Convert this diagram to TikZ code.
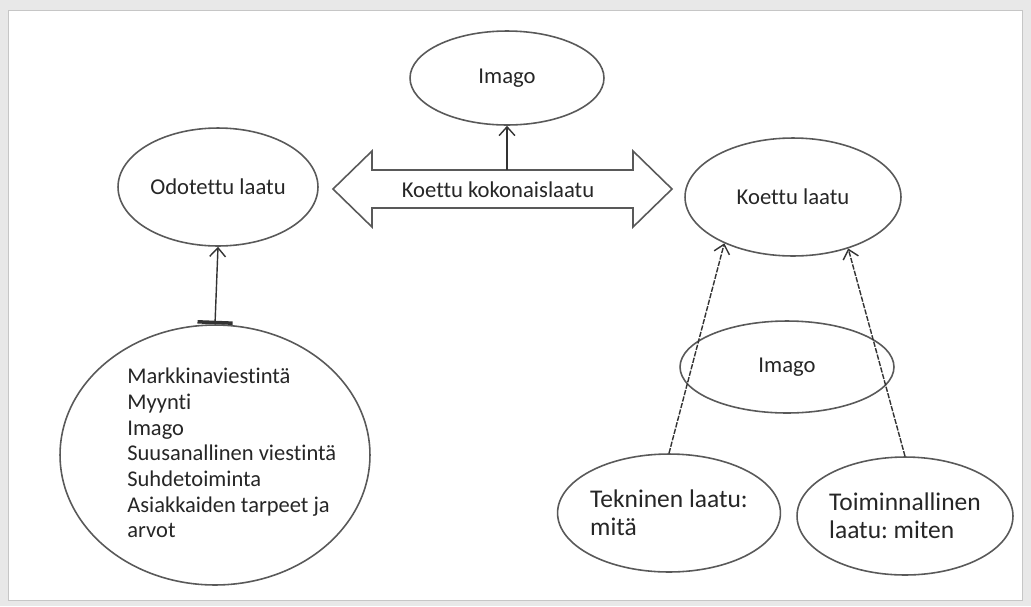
\documentclass[tikz,border=0pt]{standalone}
\usepackage{fontspec}
\setmainfont{Carlito}[Ligatures={NoCommon}]
\usetikzlibrary{shapes.geometric,arrows.meta}
\frenchspacing

\tikzset{
  oval/.style={ellipse, draw=black!65, line width=0.9pt, inner sep=0pt,
    minimum width=4.32cm, minimum height=2.36cm, align=left,
    font=\fontsize{12.9}{15}\selectfont, text=black!85},
  bigtext/.style={font=\fontsize{14.5}{16}\selectfont},
  textblock/.style={inner sep=0pt, align=left,
    font=\fontsize{12.8}{14.6}\selectfont, text=black!85},
  link/.style={-{Straight Barb[length=5pt,width=9pt]}, draw=black!80, line width=0.8pt},
  shaft/.style={draw=black!65, line width=0.9pt, fill=white},
}

\begin{document}
\begin{tikzpicture}[x=0.02cm, y=-0.02cm]
  \useasboundingbox (0,0) rectangle (1031,606);
  \fill[gray!18] (0,0) rectangle (1031,606);
  \filldraw[fill=white, draw=gray!45] (8,10) rectangle (1022,600);

  % ovals
  \node (imagotop) [oval, minimum width=3.88cm, minimum height=1.88cm] at (507,78) {Imago};
  \node (expected) [oval, minimum width=4cm] at (218,187) {Odotettu laatu};
  \node (perceived) [oval] at (793,197) {Koettu laatu};
  \node (imagomid) [oval, minimum width=4.28cm, minimum height=1.84cm] at (787,367) {Imago};
  \node (technical) [oval, bigtext] at (669,513) {Tekninen laatu:\\mitä};
  \node (functional) [oval, bigtext] at (905,516) {Toiminnallinen\\laatu: miten};
  \node (sources) [oval, minimum width=6.2cm, minimum height=5.2cm] at (215,455) {};
  \node (sourcelist) [textblock, anchor=west] at (127,453) {Markkinaviestintä\\Myynti\\Imago\\Suusanallinen viestintä\\Suhdetoiminta\\Asiakkaiden tarpeet ja\\arvot};

  % double arrow
  \draw[shaft] (333,189) -- (372,151) -- (372,170) -- (633,170) -- (633,151) -- (672,189)
    -- (633,227) -- (633,208) -- (372,208) -- (372,227) -- cycle;
  \node (total) [textblock, font=\fontsize{12.9}{15}\selectfont] at (498,190) {Koettu kokonaislaatu};
  \coordinate (shafttop) at (507,170);

  % connectors
  \draw[link] (shafttop) -- (imagotop.south);
  \draw[link, {Bar[width=20pt,line width=2pt]}-{Straight Barb[length=5pt,width=9pt]}] (sources.north) -- (expected.south);
  \draw[link, dash pattern=on 3pt off 0.8pt] (technical.north) -- (perceived.214);
  \draw[link, dash pattern=on 3pt off 0.8pt] (functional.north) -- (perceived.317);
\end{tikzpicture}
\end{document}
